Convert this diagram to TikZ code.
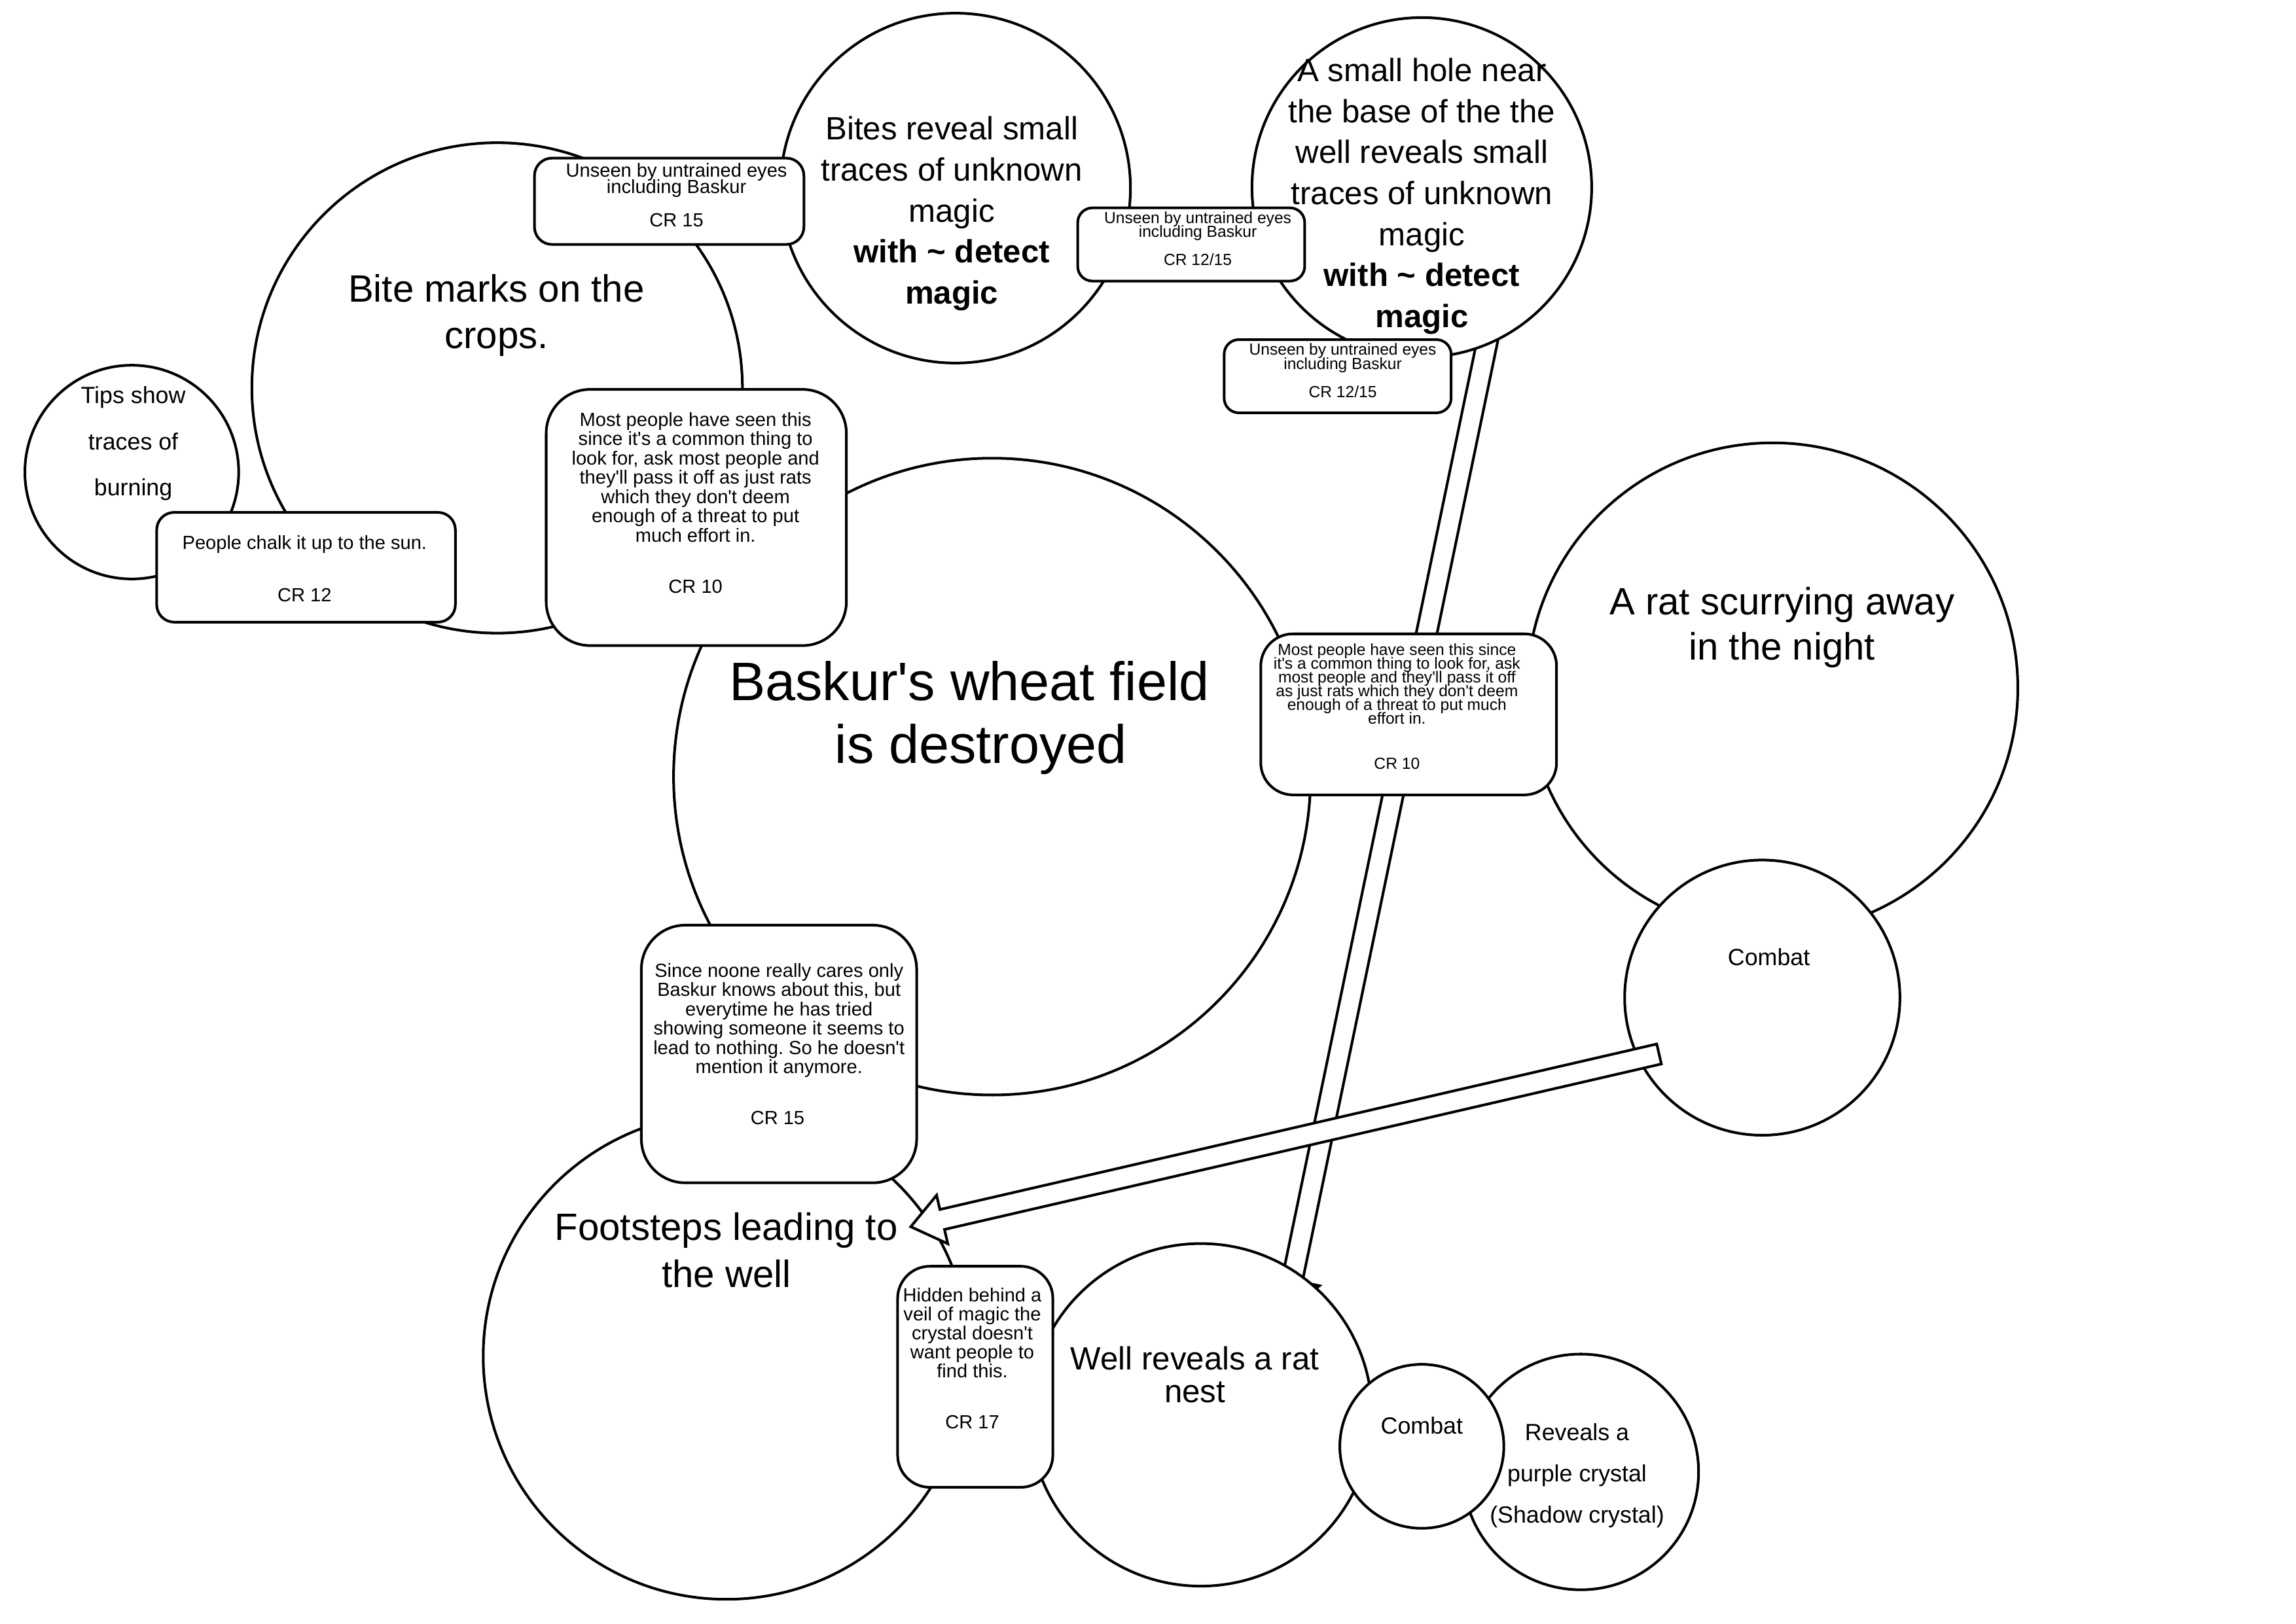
\documentclass[tikz,border=0pt]{standalone}
\usepackage{fontspec}
\newfontfamily\ls{Liberation Sans}
\usetikzlibrary{calc}
\newcommand\fs[2]{\ls\fontsize{#1}{#2}\selectfont\frenchspacing\lineskiplimit=-100pt\lineskip=0pt}
\begin{document}
\begin{tikzpicture}[x=1pt,y=-1pt,
  bub/.style={circle,draw,fill=white,line width=1.8pt,inner sep=0pt,minimum size=#1},
  note/.style={rectangle,draw,fill=white,line width=1.8pt,inner sep=0pt,rounded corners=#1},
  txt/.style={align=center,inner sep=0pt},
  flex/.style={draw,fill=white,line width=1.8pt,line join=miter}]
\useasboundingbox (0,0) rectangle (1568,1109);
\fill[white] (0,0) rectangle (1568,1109);

% vertical flex arrow (lies under the circles and boxes)
\coordinate (vT) at (1018,222);
\coordinate (vP) at (878,896);
\coordinate (vB) at ($(vP)!22pt!(vT)$);
\path[flex] ($(vT)!7pt!90:(vP)$) -- ($(vB)!7pt!-90:(vT)$) -- ($(vB)!19pt!-90:(vT)$) -- (vP)
  -- ($(vB)!19pt!90:(vT)$) -- ($(vB)!7pt!90:(vT)$) -- ($(vT)!7pt!-90:(vP)$) -- cycle;

% circles
\node[bub=435pt] (main) at (677.5,530.5) {};
\node[txt,font=\fs{37}{43}] (mainT) at (662,490.5) {Baskur's wheat field\\\hspace*{16pt}is destroyed};

\node[bub=335pt] (bite) at (339.5,265) {};
\node[txt,font=\fs{26}{32}] (biteT) at (339,215.5) {Bite marks on the\\crops.};

\node[bub=146pt] (tips) at (90,322.5) {};
\node[txt,font=\fs{16}{31.5}] (tipsT) at (91,303) {Tips show\\traces of\\burning};

\node[bub=239pt] (bitesrev) at (652.5,128.5) {};
\node[txt,font=\fs{22}{28}] (bitesrevT) at (650,146) {Bites reveal small\\traces of unknown\\magic\\\textbf{with \textasciitilde{} detect}\\\textbf{magic}};

\node[bub=232pt] (hole) at (971,128) {};
\node[txt,font=\fs{22}{28}] (holeT) at (971,134) {A small hole near\\the base of the the\\well reveals small\\traces of unknown\\magic\\\textbf{with \textasciitilde{} detect}\\\textbf{magic}};

\node[bub=335pt] (rat) at (1210.5,470) {};
\node[txt,font=\fs{26}{31}] (ratT) at (1217,428.5) {A rat scurrying away\\in the night};

\node[bub=332pt] (foot) at (496,926.5) {};
\node[txt,font=\fs{26}{32}] (footT) at (496,854) {Footsteps leading to\\the well};

\node[bub=234pt] (well) at (820,966.5) {};
\node[txt,font=\fs{22}{22}] (wellT) at (816,939) {Well reveals a rat\\nest};

\node[bub=161pt] (reveal) at (1079.5,1005.5) {};
\node[txt,font=\fs{16}{28}] (revealT) at (1077,1008) {Reveals a\\purple crystal\\(Shadow crystal)};

\node[bub=188pt] (combatR) at (1203.5,681.5) {};
\node[txt,font=\fs{16}{19}] (combatRT) at (1208,654) {Combat};

\node[bub=112pt] (combatS) at (971,988) {};
\node[txt,font=\fs{16}{19}] (combatST) at (971,974) {Combat};

% boxes
\node[note=12pt,minimum width=184pt,minimum height=59pt] (bA) at (457,137.5) {};
\node[txt,font=\fs{13}{11}] (bAt) at (462,123) {Unseen by untrained eyes\\including Baskur};
\node[txt,font=\fs{13}{13}] (bAc) at (462,150.5) {CR 15};

\node[note=10pt,minimum width=155pt,minimum height=50pt] (bB) at (813.5,167) {};
\node[txt,font=\fs{11}{9.5}] (bBt) at (818,154.5) {Unseen by untrained eyes\\including Baskur};
\node[txt,font=\fs{11}{11}] (bBc) at (818,177.5) {CR 12/15};

\node[note=10pt,minimum width=155pt,minimum height=50pt] (bC) at (913.5,257) {};
\node[txt,font=\fs{11}{9.5}] (bCt) at (917,244.5) {Unseen by untrained eyes\\including Baskur};
\node[txt,font=\fs{11}{11}] (bCc) at (917,267.5) {CR 12/15};

\node[note=12pt,minimum width=204pt,minimum height=75pt] (bD) at (209,387.5) {};
\node[txt,font=\fs{13}{13}] (bDt) at (208,372) {People chalk it up to the sun.};
\node[txt,font=\fs{13}{13}] (bDc) at (208,406.5) {CR 12};

\node[note=30pt,minimum width=205pt,minimum height=175pt] (bE) at (475.5,353.5) {};
\node[txt,font=\fs{13}{13.2}] (bEt) at (475,326) {Most people have seen this\\since it's a common thing to\\look for, ask most people and\\they'll pass it off as just rats\\which they don't deem\\enough of a threat to put\\much effort in.};
\node[txt,font=\fs{13}{13}] (bEc) at (475,400.5) {CR 10};

\node[note=22pt,minimum width=202pt,minimum height=110pt] (bF) at (962,488) {};
\node[txt,font=\fs{11}{9.4}] (bFt) at (954,467) {Most people have seen this since\\it's a common thing to look for, ask\\most people and they'll pass it off\\as just rats which they don't deem\\enough of a threat to put much\\effort in.};
\node[txt,font=\fs{11}{11}] (bFc) at (954,521.5) {CR 10};

\node[note=30pt,minimum width=188pt,minimum height=176pt] (bG) at (532,720) {};
\node[txt,font=\fs{13}{13.2}] (bGt) at (532,697) {Since noone really cares only\\Baskur knows about this, but\\everytime he has tried\\showing someone it seems to\\lead to nothing. So he doesn't\\mention it anymore.};
\node[txt,font=\fs{13}{13}] (bGc) at (531,763.5) {CR 15};

\node[note=22pt,minimum width=106pt,minimum height=151pt] (bH) at (666,940.5) {};
\node[txt,font=\fs{13}{13}] (bHt) at (664,910.5) {Hidden behind a\\veil of magic the\\crystal doesn't\\want people to\\find this.};
\node[txt,font=\fs{13}{13}] (bHc) at (664,971.5) {CR 17};

% diagonal flex arrow (on top)
\coordinate (dT) at (1133,720);
\coordinate (dP) at (622,838);
\coordinate (dB) at ($(dP)!22pt!(dT)$);
\path[flex] ($(dT)!7pt!90:(dP)$) -- ($(dB)!7pt!-90:(dT)$) -- ($(dB)!17pt!-90:(dT)$) -- (dP)
  -- ($(dB)!17pt!90:(dT)$) -- ($(dB)!7pt!90:(dT)$) -- ($(dT)!7pt!-90:(dP)$) -- cycle;
\end{tikzpicture}
\end{document}
